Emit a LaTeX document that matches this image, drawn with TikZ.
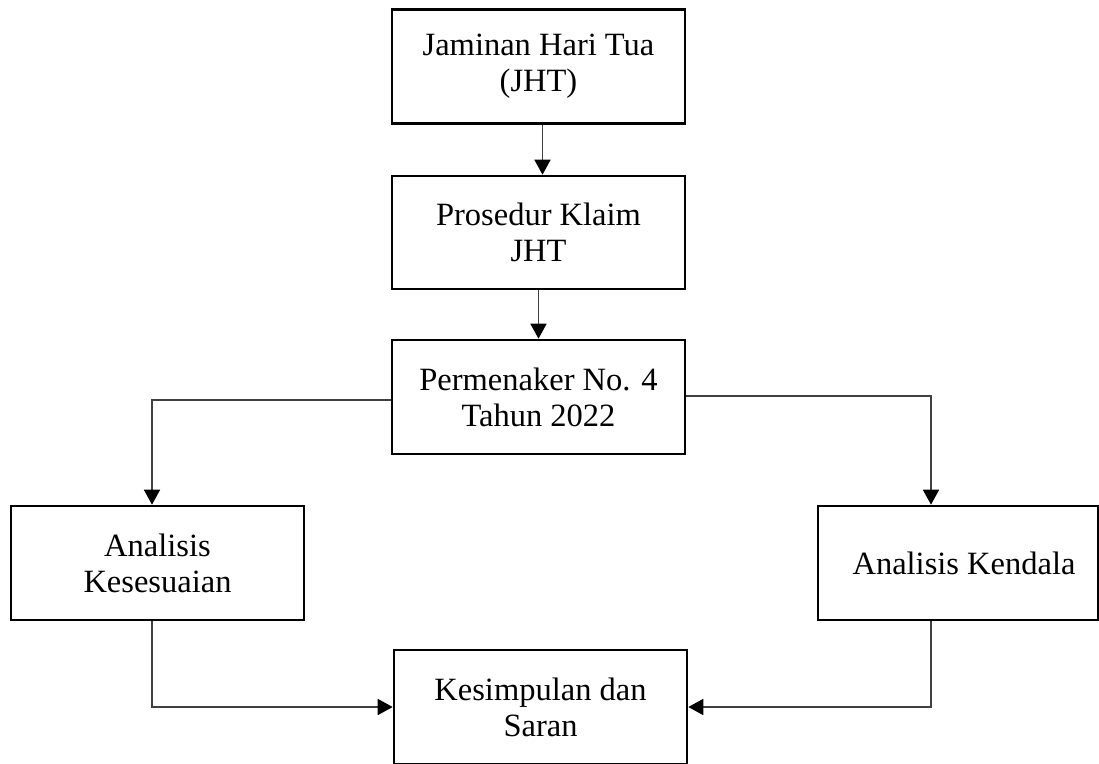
\documentclass[tikz,border=0pt]{standalone}
\usepackage{fontspec}
\setmainfont{Liberation Serif}
\usetikzlibrary{arrows.meta}
\definecolor{conncol}{HTML}{404040}
\tikzset{
  stepbox/.style={draw=black, line width=2.6pt, fill=white, align=center, inner sep=0pt,
    font=\fontsize{32.5}{36}\selectfont, minimum width=293pt, minimum height=114pt},
  conn/.style={draw=conncol, line width=1.6pt, -{Triangle[width=16pt,length=15pt,color=black]}}
}
\begin{document}
\begin{tikzpicture}[x=1pt,y=-1pt]
\useasboundingbox (0,0) rectangle (1099,763);
\clip (0,0) rectangle (1099,763);
\node[stepbox] (b1) at (538.5,66.5) {Jaminan Hari Tua\\(JHT)};
\node[stepbox, minimum height=113pt] (b2) at (538.5,232.5) {Prosedur Klaim\\JHT};
\node[stepbox] (b3) at (538.5,397) {Permenaker No. 4\\Tahun 2022};
\node[stepbox] (b4) at (157.5,563) {Analisis\\Kesesuaian};
\node[stepbox, minimum width=280pt] (b5) at (958,563) {\hspace{12pt}Analisis Kendala};
\node[stepbox] (b6) at (540.5,707) {Kesimpulan dan\\Saran};
\coordinate (l4) at ([xshift=-5.5pt]b4.north);
\coordinate (l4b) at ([xshift=-5.5pt]b4.south);
\coordinate (r5) at ([xshift=-27pt]b5.north);
\coordinate (r5b) at ([xshift=-27pt]b5.south);
\draw[conn] ([xshift=4pt]b1.south) -- ([xshift=4pt]b2.north);
\draw[conn] (b2.south) -- (b3.north);
\draw[conn] ([yshift=-3pt]b3.west) -| (l4);
\draw[conn] ([yshift=1pt]b3.east) -| (r5);
\draw[conn] (l4b) |- (b6.west);
\draw[conn] (r5b) |- (b6.east);
\end{tikzpicture}
\end{document}
